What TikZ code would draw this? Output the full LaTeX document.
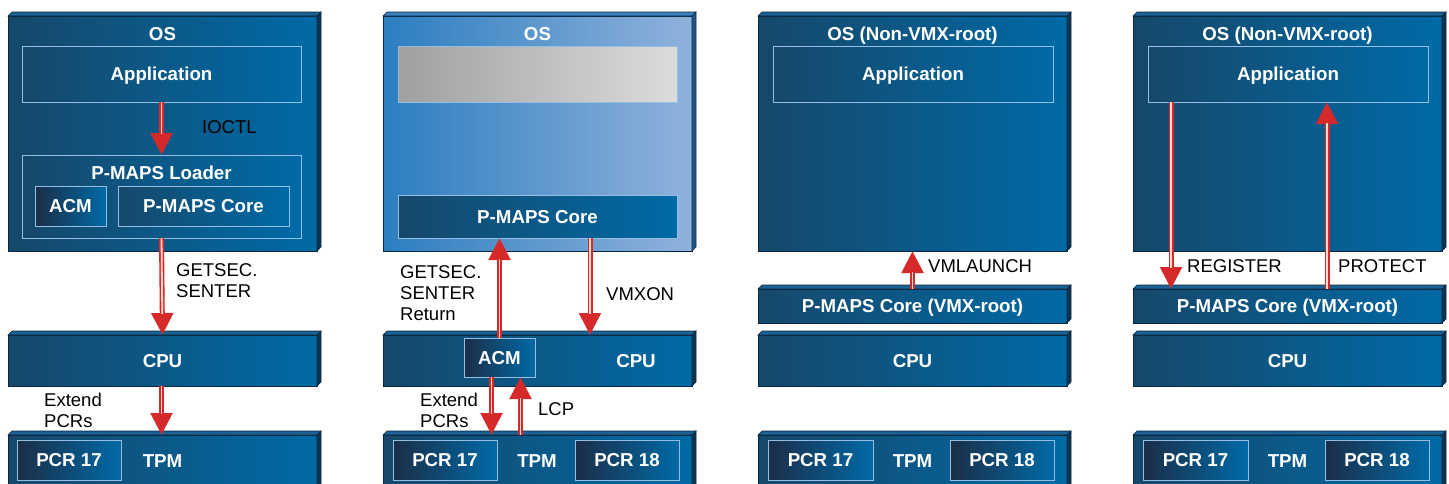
\documentclass[tikz,border=0pt]{standalone}
\usepackage{fontspec}
\setmainfont{Liberation Sans}
\usetikzlibrary{arrows.meta}

\definecolor{slabL}{RGB}{22,72,106}
\definecolor{slabR}{RGB}{0,106,166}
\definecolor{slabTop}{RGB}{28,98,148}
\definecolor{slabSide}{RGB}{14,52,82}
\definecolor{slabEdge}{RGB}{10,38,62}
\definecolor{liteL}{RGB}{44,126,192}
\definecolor{liteR}{RGB}{144,178,220}
\definecolor{liteTop}{RGB}{60,130,190}
\definecolor{liteSide}{RGB}{40,85,135}
\definecolor{frameLine}{RGB}{150,190,226}
\definecolor{chipL}{RGB}{27,46,72}
\definecolor{greyL}{RGB}{160,160,160}
\definecolor{greyR}{RGB}{220,220,220}
\definecolor{flowRed}{RGB}{214,42,42}
\definecolor{flowPale}{RGB}{252,218,208}

\tikzset{
  slab/.style={draw=slabEdge, line width=0.8pt, left color=slabL, right color=slabR, inner sep=0pt, outer sep=0pt},
  liteslab/.style={draw=slabEdge, line width=0.8pt, left color=liteL, right color=liteR, inner sep=0pt, outer sep=0pt},
  slabtop/.style={fill=slabTop, draw=slabEdge, line width=0.6pt},
  slabside/.style={fill=slabSide, draw=slabEdge, line width=0.6pt},
  litetop/.style={fill=liteTop, draw=slabEdge, line width=0.6pt},
  liteside/.style={fill=liteSide, draw=slabEdge, line width=0.6pt},
  panelbox/.style={draw=frameLine, line width=1pt, left color=slabL, right color=slabR, inner sep=0pt, outer sep=0pt},
  chipbox/.style={draw=frameLine, line width=1pt, left color=chipL, right color=slabR, inner sep=0pt, outer sep=0pt},
  greybox/.style={draw=frameLine, line width=1pt, left color=greyL, right color=greyR, inner sep=0pt, outer sep=0pt},
  boxtext/.style={text=white, font=\bfseries\fontsize{18.7}{21}\selectfont, text depth=0pt},
  note/.style={font=\fontsize{18.5}{21}\selectfont, align=left, anchor=west, inner sep=0pt},
  flowout/.style={draw=flowRed, line width=5pt, -{Triangle[width=21pt,length=22pt]}, fill=flowRed},
  flowin/.style={draw=flowPale, line width=1.8pt, shorten >=21pt},
}

% a raised slab: front face plus a thin top and right face
\newcommand\DrawSlab[7]{%
  % #1 name, #2 front style, #3 face prefix, #4 x0, #5 y0, #6 x1, #7 y1
  \node[#2, anchor=north west, minimum width={(#6-#4)*1pt}, minimum height={(#7-#5)*1pt}] (#1) at (#4,#5) {};
  \filldraw[#3top] (#1.north west) -- ++(4,-4) -- ([shift={(4,-4)}]#1.north east) -- (#1.north east) -- cycle;
  \filldraw[#3side] (#1.north east) -- ++(4,-4) -- ([shift={(4,-4)}]#1.south east) -- (#1.south east) -- cycle;
}
% a flat framed box with centred text
\newcommand\DrawBox[7]{%
  \node[#2, boxtext, anchor=north west, minimum width={(#5-#3)*1pt}, minimum height={(#6-#4)*1pt}] (#1) at (#3,#4) {#7};
}
% a red call arrow with a pale core
\newcommand\Flow[2]{%
  \draw[flowout] #1 -- #2;
  \draw[flowin] #1 -- #2;
}

\begin{document}
\begin{tikzpicture}[x=1pt,y=-1pt]
\useasboundingbox (0,0) rectangle (1449,483);

% ---------- column 1: loading ----------
\DrawSlab{os1}{slab}{slab}{8}{16}{317}{251}
\DrawSlab{cpu1}{slab}{slab}{8}{335}{317}{386}
\DrawSlab{tpm1}{slab}{slab}{8}{435}{317}{495}
\node[boxtext] (os1t) at (162.5,34) {OS};
\DrawBox{app1}{panelbox}{22}{46}{301}{102}{Application}
\DrawBox{ldr1}{panelbox}{22}{155}{301}{238}{}
\node[boxtext] (ldr1t) at (161.5,173) {P-MAPS Loader};
\DrawBox{acm1}{chipbox}{35}{186}{106}{226}{ACM}
\DrawBox{core1}{panelbox}{118}{186}{289}{226}{P-MAPS Core}
\node[boxtext] (cpu1t) at (cpu1.center) {CPU};
\DrawBox{pcr1a}{chipbox}{17}{440}{121}{480}{PCR 17}
\node[boxtext] (tpm1t) at (162.5,461) {TPM};

\Flow{(app1.south)}{(ldr1.north)}
\Flow{(ldr1.south)}{(cpu1.north)}
\Flow{(cpu1.south -| ldr1.south)}{(tpm1.north -| ldr1.south)}
\node[note] (ioctl) at (202,127) {IOCTL};
\node[note] (senter1) at (176,281) {GETSEC.\\SENTER};
\node[note] (ext1) at (44,410) {Extend\\PCRs};

% ---------- column 2: launch ----------
\DrawSlab{os2}{liteslab}{lite}{383}{16}{692}{251}
\DrawSlab{cpu2}{slab}{slab}{383}{335}{692}{386}
\DrawSlab{tpm2}{slab}{slab}{383}{435}{692}{495}
\node[boxtext] (os2t) at (537.5,34) {OS};
\DrawBox{grey2}{greybox}{398}{46}{677}{102}{}
\DrawBox{core2}{panelbox}{398}{195}{677}{238}{P-MAPS Core}
\DrawBox{acm2}{chipbox}{464}{338}{535}{377}{ACM}
\node[boxtext] (cpu2t) at (636,361) {CPU};
\DrawBox{pcr2a}{chipbox}{393}{440}{497}{480}{PCR 17}
\DrawBox{pcr2b}{chipbox}{575}{440}{679}{480}{PCR 18}
\node[boxtext] (tpm2t) at (537,461) {TPM};

\coordinate (vmx2) at (590,238);
\Flow{(acm2.north)}{(acm2.north |- core2.south)}
\Flow{(vmx2)}{(vmx2 |- cpu2.north)}
\coordinate (ext2) at ([xshift=-8pt]acm2.south);
\coordinate (lcp2) at ([xshift=21pt]acm2.south);
\Flow{(ext2)}{(ext2 |- tpm2.north)}
\Flow{(lcp2 |- tpm2.north)}{(lcp2)}
\node[note] (ret2) at (400,293) {GETSEC.\\SENTER\\Return};
\node[note] (vmxon) at (606,294) {VMXON};
\node[note] (ext2t) at (420,410) {Extend\\PCRs};
\node[note] (lcp) at (538,409) {LCP};

% ---------- column 3: VMLAUNCH ----------
\DrawSlab{os3}{slab}{slab}{758}{16}{1067}{251}
\DrawSlab{core3}{slab}{slab}{758}{289}{1067}{323}
\DrawSlab{cpu3}{slab}{slab}{758}{335}{1067}{386}
\DrawSlab{tpm3}{slab}{slab}{758}{435}{1067}{495}
\node[boxtext] (os3t) at (912.5,34) {OS (Non-VMX-root)};
\DrawBox{app3}{panelbox}{773}{46}{1053}{102}{Application}
\node[boxtext] (core3t) at (core3.center) {P-MAPS Core (VMX-root)};
\node[boxtext] (cpu3t) at (cpu3.center) {CPU};
\DrawBox{pcr3a}{chipbox}{768}{440}{873}{480}{PCR 17}
\DrawBox{pcr3b}{chipbox}{950}{440}{1054}{480}{PCR 18}
\node[boxtext] (tpm3t) at (912.5,461) {TPM};

\Flow{(core3.north)}{(os3.south)}
\node[note] (vml) at (928,266) {VMLAUNCH};

% ---------- column 4: register / protect ----------
\DrawSlab{os4}{slab}{slab}{1133}{16}{1442}{251}
\DrawSlab{core4}{slab}{slab}{1133}{289}{1442}{323}
\DrawSlab{cpu4}{slab}{slab}{1133}{335}{1442}{386}
\DrawSlab{tpm4}{slab}{slab}{1133}{435}{1442}{495}
\node[boxtext] (os4t) at (1287.5,34) {OS (Non-VMX-root)};
\DrawBox{app4}{panelbox}{1148}{46}{1428}{102}{Application}
\node[boxtext] (core4t) at (core4.center) {P-MAPS Core (VMX-root)};
\node[boxtext] (cpu4t) at (cpu4.center) {CPU};
\DrawBox{pcr4a}{chipbox}{1143}{440}{1248}{480}{PCR 17}
\DrawBox{pcr4b}{chipbox}{1325}{440}{1429}{480}{PCR 18}
\node[boxtext] (tpm4t) at (1287.5,461) {TPM};

\coordinate (reg4) at (1171,102);
\coordinate (prot4) at (1327,102);
\Flow{(reg4)}{(reg4 |- core4.north)}
\Flow{(prot4 |- core4.north)}{(prot4)}
\node[note] (regt) at (1187,266) {REGISTER};
\node[note] (prott) at (1338,266) {PROTECT};

\end{tikzpicture}
\end{document}
